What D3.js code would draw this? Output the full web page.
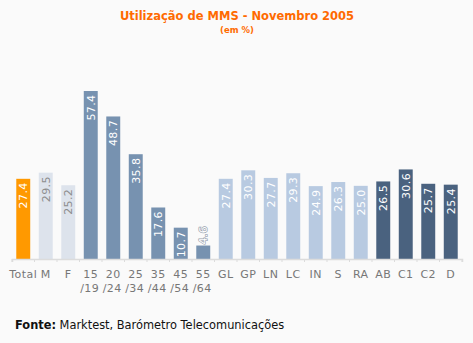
<!DOCTYPE html>
<html>
<head>
<meta charset="utf-8">
<script src="https://cdn.jsdelivr.net/npm/d3@7"></script>
<style>
  html, body { margin: 0; padding: 0; background: #fafafa; }
  svg { display: block; }
</style>
</head>
<body>
<svg id="chart" width="473" height="343"></svg>
<script>
// Category labels (second line used for age bands)
const categories = ["Total", "M", "F", "15", "20", "25", "35", "45", "55",
  "GL", "GP", "LN", "LC", "IN", "S", "RA", "AB", "C1", "C2", "D"];
const subLabels = ["", "", "", "/19", "/24", "/34", "/44", "/54", "/64",
  "", "", "", "", "", "", "", "", "", "", ""];
// Share of MMS users, %
const values = [27.4, 29.5, 25.2, 57.4, 48.7, 35.8, 17.6, 10.7, 4.6,
  27.4, 30.3, 27.7, 29.3, 24.9, 26.3, 25.0, 26.5, 30.6, 25.7, 25.4];
// Group of each bar: total, gender, age, region, social class
const groups = ["total", "sex", "sex", "age", "age", "age", "age", "age", "age",
  "region", "region", "region", "region", "region", "region", "region",
  "class", "class", "class", "class"];

const fillColor = {total: "#ff9900", sex: "#dde3ec", age: "#7792b0", region: "#b8cae1", class: "#4a627f"};
const labelColor = {total: "#ffffff", sex: "#8c8c8c", age: "#ffffff", region: "#ffffff", class: "#ffffff"};

const svg = d3.select("#chart");
const font = "'DejaVu Sans', Verdana, sans-serif";

const baseY = 259;
const x = d3.scaleBand().domain(d3.range(categories.length)).range([12, 462]).paddingInner(0.38).paddingOuter(0.19);
const y = d3.scaleLinear().domain([0, 57.4]).range([baseY, 91]);

// Title
svg.append("text").attr("x", 237).attr("y", 20).attr("text-anchor", "middle")
  .attr("font-family", font).attr("font-weight", "bold").attr("font-size", 11.5)
  .attr("fill", "#ff6a00").text("Utilização de MMS - Novembro 2005");
svg.append("text").attr("x", 237).attr("y", 33).attr("text-anchor", "middle")
  .attr("font-family", font).attr("font-weight", "bold").attr("font-size", 8.5)
  .attr("fill", "#ff6a00").text("(em %)");

// Bars
svg.append("g").selectAll("rect").data(values).join("rect")
  .attr("x", (d, i) => x(i))
  .attr("width", x.bandwidth())
  .attr("y", d => y(d))
  .attr("height", d => baseY - y(d))
  .attr("fill", (d, i) => fillColor[groups[i]]);

// Value labels, rotated, reading upward; bars too short for their label get it above the bar
const labelLen = 26;
const fits = d => baseY - y(d) >= labelLen;
svg.append("g").selectAll("text").data(values).join("text")
  .attr("font-family", font).attr("font-size", 11).attr("letter-spacing", 0.4)
  .attr("fill", (d, i) => labelColor[groups[i]])
  .attr("stroke", d => fits(d) ? "none" : "#97a1ae")
  .attr("stroke-width", 1.3)
  .attr("paint-order", "stroke")
  .attr("transform", (d, i) => {
    const cx = x(i) + x.bandwidth() / 2 + 4;
    const s = fits(d) ? y(d) + 3.5 : y(d) - 1;
    return `translate(${cx},${s}) rotate(-90)`;
  })
  .attr("text-anchor", d => fits(d) ? "end" : "start")
  .text(d => d.toFixed(1));

// Axis
const axis = d3.axisBottom(x).tickSize(3).tickFormat("").tickSizeOuter(3);
const ag = svg.append("g").attr("transform", `translate(0,${baseY})`).call(axis);
ag.select(".domain").attr("stroke", "#dcdcdc").attr("stroke-width", 1.5);
ag.selectAll(".tick line").attr("stroke", "#dcdcdc").attr("transform", `translate(${-x.step() / 2},0)`);
ag.append("line").attr("x1", 462).attr("x2", 462).attr("y1", 0).attr("y2", 3).attr("stroke", "#dcdcdc");

// Category labels
const lab = svg.append("g").attr("font-family", font).attr("font-size", 11)
  .attr("letter-spacing", 0.5).attr("fill", "#777");
lab.selectAll("text.c1").data(categories).join("text").attr("class", "c1")
  .attr("x", (d, i) => x(i) + x.bandwidth() / 2).attr("y", 277.5)
  .attr("text-anchor", "middle").text(d => d);
lab.selectAll("text.c2").data(subLabels).join("text").attr("class", "c2")
  .attr("x", (d, i) => x(i) + x.bandwidth() / 2 - 1).attr("y", 291.5)
  .attr("text-anchor", "middle").text(d => d);

// Source
const src = svg.append("text").attr("x", 15).attr("y", 329)
  .attr("font-family", font).attr("font-size", 11.4).attr("fill", "#111");
src.append("tspan").attr("font-weight", "bold").text("Fonte:");
src.append("tspan").text(" Marktest, Barómetro Telecomunicações");
</script>
</body>
</html>
